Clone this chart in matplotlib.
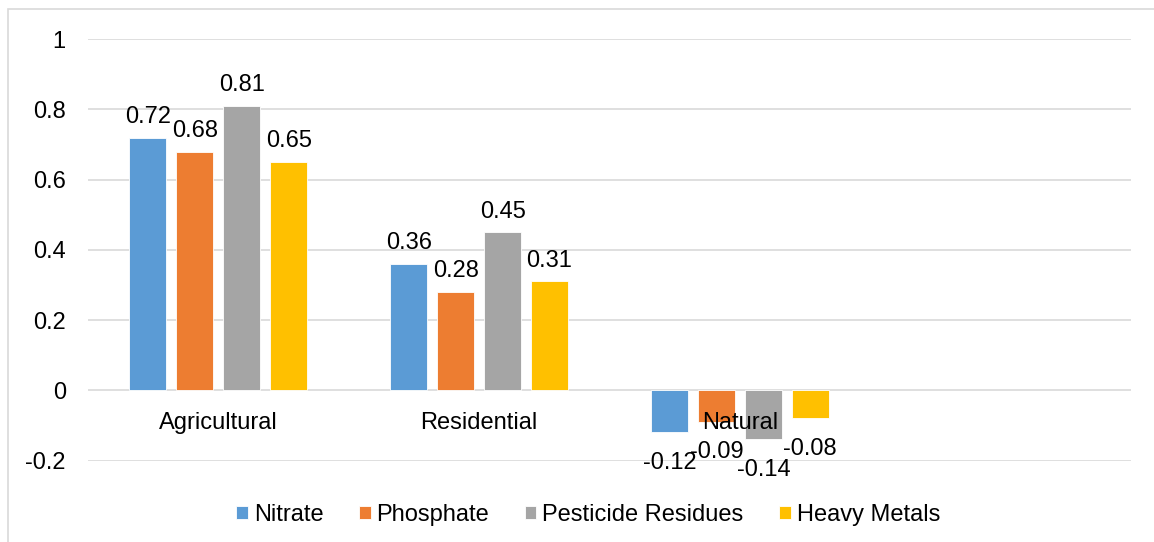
import matplotlib.pyplot as plt
from matplotlib.patches import Rectangle
import numpy as np

plt.rcParams['font.family'] = ['Liberation Sans', 'DejaVu Sans']

categories = ['Agricultural', 'Residential', 'Natural', '']
series = ['Nitrate', 'Phosphate', 'Pesticide Residues', 'Heavy Metals']
nitrate = [0.72, 0.36, -0.12]
phosphate = [0.68, 0.28, -0.09]
pesticide = [0.81, 0.45, -0.14]
metals = [0.65, 0.31, -0.08]
colors = ['#5B9BD5', '#ED7D31', '#A5A5A5', '#FFC000']
yticks = [-0.2, 0, 0.2, 0.4, 0.6, 0.8, 1]
ytick_labels = ['-0.2', '0', '0.2', '0.4', '0.6', '0.8', '1']

FS = 17

fig = plt.figure(figsize=(11.54, 5.42), dpi=100)
ax = fig.add_axes([88 / 1154, 1 - 460.5 / 542, (1131 - 88) / 1154, (460.5 - 39.3) / 542])

# chart border
fig.patches.append(Rectangle((8 / 1154, -0.05), 1.2, 1 - 9 / 542 + 0.05,
                             transform=fig.transFigure, fill=False,
                             edgecolor='#D9D9D9', linewidth=1.2))

x = np.arange(len(categories[:3]))
width = 0.142
step = 0.180
for i, (name, vals) in enumerate(zip(series, [nitrate, phosphate, pesticide, metals])):
    pos = x + (i - 1.5) * step
    bars = ax.bar(pos, vals, width, color=colors[i], label=name,
                  edgecolor='white', linewidth=0.6, zorder=3)
    for b, v in zip(bars, vals):
        if v >= 0:
            ax.annotate(f'{v:.2f}', (b.get_x() + b.get_width() / 2, v),
                        xytext=(0, 7), textcoords='offset points',
                        ha='center', va='bottom', fontsize=FS, zorder=5)
        else:
            ax.annotate(f'{v:.2f}', (b.get_x() + b.get_width() / 2, v),
                        xytext=(0, -14), textcoords='offset points',
                        ha='center', va='top', fontsize=FS, zorder=5)

# category names sit just under the zero line, on top of the bars
for i, c in enumerate(categories):
    ax.annotate(c, (i, 0), xytext=(0, -15.5), textcoords='offset points',
                ha='center', va='top', fontsize=FS, zorder=6)

ax.set_xlim(-0.5, 3.5)
ax.set_ylim(-0.2, 1)
ax.set_xticks([])
ax.set_yticks(yticks)
ax.set_yticklabels(ytick_labels, fontsize=FS)
ax.tick_params(axis='y', length=0, pad=16)
for s in ['top', 'right', 'left', 'bottom']:
    ax.spines[s].set_visible(False)
ax.grid(axis='y', color='#D9D9D9', linewidth=1.2, zorder=0)
ax.set_axisbelow(True)

fig.legend(*ax.get_legend_handles_labels(), loc='center',
           bbox_to_anchor=(588 / 1154, 1 - 515 / 542),
           ncol=4, frameon=False, fontsize=FS, handlelength=0.5, handleheight=0.5,
           handletextpad=0.25, columnspacing=1.5)

fig.savefig('out.png', dpi=100)
